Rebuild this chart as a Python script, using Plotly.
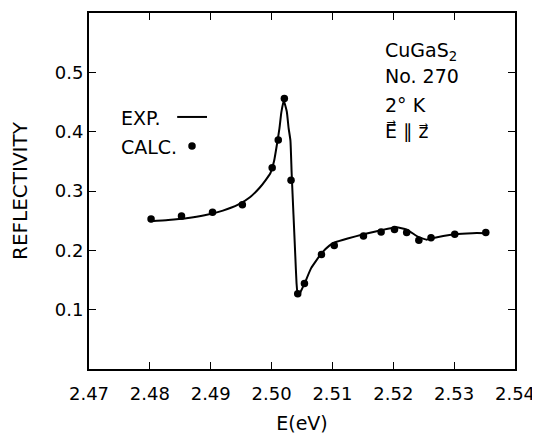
import plotly.graph_objects as go

# Calculated reflectivity (dots)
calc_e = [2.4802, 2.4852, 2.4903, 2.4952, 2.5001, 2.5011, 2.5021, 2.5032, 2.5043,
          2.5054, 2.5082, 2.5103, 2.5151, 2.5180, 2.5202, 2.5222, 2.5242, 2.5262,
          2.5301, 2.5352]
calc_r = [0.253, 0.258, 0.264, 0.277, 0.339, 0.386, 0.456, 0.318, 0.127,
          0.144, 0.193, 0.208, 0.224, 0.231, 0.235, 0.230, 0.217, 0.221,
          0.227, 0.230]

exp_e = [2.4800, 2.4830, 2.4860, 2.4890, 2.4920, 2.4945, 2.4965, 2.4980, 2.4990,
         2.4998, 2.5004, 2.5010, 2.5013, 2.5016, 2.5020, 2.5025, 2.5028, 2.5031,
         2.5033, 2.5036, 2.5039, 2.5041, 2.5043, 2.5046, 2.5050, 2.5055, 2.5065,
         2.5082, 2.5095, 2.5103, 2.5125, 2.5151, 2.5180, 2.5205, 2.5222, 2.5242,
         2.5255, 2.5262, 2.5300, 2.5330, 2.5352]
exp_r = [0.249, 0.251, 0.254, 0.259, 0.267, 0.277, 0.290, 0.305, 0.318,
         0.330, 0.350, 0.386, 0.406, 0.432, 0.452, 0.434, 0.406, 0.385,
         0.330, 0.260, 0.190, 0.145, 0.124, 0.127, 0.135, 0.146, 0.170,
         0.195, 0.208, 0.213, 0.220, 0.227, 0.234, 0.239, 0.235, 0.222,
         0.218, 0.220, 0.227, 0.229, 0.229]

x_ticks = [2.47, 2.48, 2.49, 2.50, 2.51, 2.52, 2.53, 2.54]
x_tick_labels = ["2.47", "2.48", "2.49", "2.50", "2.51", "2.52", "2.53", "2.54"]
y_ticks = [0.1, 0.2, 0.3, 0.4, 0.5]
y_tick_labels = ["0.1", "0.2", "0.3", "0.4", "0.5"]

FONT = "DejaVu Sans"
fig = go.Figure()
fig.add_trace(go.Scatter(x=exp_e, y=exp_r, mode="lines",
                         line=dict(color="black", width=2, shape="spline", smoothing=0.4),
                         showlegend=False, hoverinfo="skip"))
fig.add_trace(go.Scatter(x=calc_e, y=calc_r, mode="markers",
                         marker=dict(color="black", size=7.5),
                         showlegend=False))

axis_common = dict(showline=True, linecolor="black", linewidth=1.8, mirror="ticks",
                   ticks="inside", ticklen=7, tickwidth=1.3, tickcolor="black",
                   showgrid=False, zeroline=False, automargin=False,
                   tickfont=dict(family=FONT, size=18, color="black"))

fig.update_xaxes(range=[2.47, 2.54], tickvals=x_ticks, ticktext=x_tick_labels,
                 ticklabelstandoff=7,
                 title=dict(text="E(eV)", font=dict(family=FONT, size=19, color="black"), standoff=14),
                 **axis_common)
fig.update_yaxes(range=[0.0, 0.6], tickvals=y_ticks, ticktext=y_tick_labels,
                 title=dict(text="REFLECTIVITY", font=dict(family=FONT, size=20, color="black"), standoff=23),
                 **axis_common)

ann_font = dict(family=FONT, size=19, color="black")
annotations = [
    dict(text="EXP.", x=0.071, y=0.705),
    dict(text="CALC.", x=0.071, y=0.624),
    dict(text="CuGaS<sub>2</sub>", x=0.690, y=0.893),
    dict(text="No. 270", x=0.690, y=0.822),
    dict(text="2° K", x=0.690, y=0.742),
    dict(text="E\u20d7 \u2225 z\u20d7", x=0.690, y=0.666),
]
for a in annotations:
    fig.add_annotation(xref="paper", yref="paper", xanchor="left", yanchor="middle",
                       showarrow=False, font=ann_font, **a)

# legend keys
fig.add_shape(type="line", xref="paper", yref="paper", x0=0.207, x1=0.277, y0=0.708, y1=0.708,
              line=dict(color="black", width=2))
fig.add_shape(type="circle", xref="paper", yref="paper", x0=0.2330, x1=0.2506, y0=0.616, y1=0.637,
              fillcolor="black", line=dict(color="black", width=0))

# page body keeps an 8px margin, so the figure is sized to fit the window from (8, 8)
fig.update_layout(width=532, height=428, margin=dict(l=81, r=25, t=5, b=66.5),
                  paper_bgcolor="white", plot_bgcolor="white", font=dict(family=FONT))
fig.write_html("out.html")
